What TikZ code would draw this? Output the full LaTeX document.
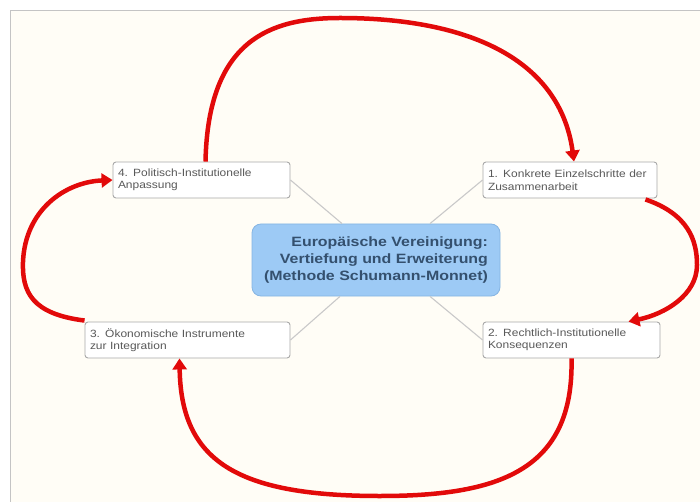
\documentclass[tikz,border=0pt]{standalone}
\usepackage{fontspec}
\setmainfont{Liberation Sans}
\newfontfamily\leaffont[FakeStretch=1.14]{Liberation Sans}
\newfontfamily\rootfont[FakeStretch=1.18]{Liberation Sans}
\usetikzlibrary{arrows.meta}
\definecolor{bgcream}{HTML}{FFFDF6}
\definecolor{framegray}{HTML}{C4C4C4}
\definecolor{rootfill}{HTML}{9DCAF5}
\definecolor{rootdraw}{HTML}{86B5E3}
\definecolor{roottext}{HTML}{34506E}
\definecolor{leafdraw}{HTML}{A8A8A8}
\definecolor{leaftext}{HTML}{595959}
\definecolor{linkgray}{HTML}{C9C9C9}
\definecolor{arrowred}{HTML}{E20A0A}
\begin{document}
\begin{tikzpicture}[x=1pt,y=-1pt,
  leaf/.style={draw=leafdraw, line width=0.9pt, fill=white, rounded corners=3pt,
    minimum height=36pt, inner xsep=5pt, inner ysep=3pt, align=left,
    text=leaftext, font=\leaffont\fontsize{10.5}{12.5}\selectfont, anchor=center},
  root/.style={draw=rootdraw, line width=0.8pt, fill=rootfill, rounded corners=9pt,
    minimum width=248pt, minimum height=72pt, align=right, inner xsep=8pt,
    text=roottext, font=\rootfont\bfseries\fontsize{13.5}{17}\selectfont},
  link/.style={draw=linkgray, line width=1.1pt},
  cycle/.style={draw=arrowred, line width=4.5pt,
    -{Triangle[length=11pt,width=14pt]}}
]
\useasboundingbox (0,0) rectangle (700,502);
\fill[white] (0,0) rectangle (700,502);
\draw[framegray, fill=bgcream, line width=1pt] (10.5,10.5) rectangle (710,512);

\node[root] (c) at (376,260) {Europäische Vereinigung:\\Vertiefung und Erweiterung\\(Methode Schumann-Monnet)};

\node[leaf, minimum width=177pt, text width=167pt] (n4) at (201.5,180) {4. Politisch-Institutionelle\\Anpassung};
\node[leaf, minimum width=174pt, text width=164pt] (n1) at (570,180) {1. Konkrete Einzelschritte der\\Zusammenarbeit};
\node[leaf, minimum width=205pt, text width=195pt] (n3) at (187.5,340) {3. Ökonomische Instrumente\\zur Integration};
\node[leaf, minimum width=177pt, text width=167pt] (n2) at (571.5,340) {2. Rechtlich-Institutionelle\\Konsequenzen};

\draw[link] ([xshift=-34pt]c.north) -- (n4.east);
\draw[link] ([xshift=54pt]c.north) -- (n1.west);
\draw[link] ([xshift=-36pt]c.south) -- (n3.east);
\draw[link] ([xshift=54pt]c.south) -- (n2.west);

\draw[cycle] ([xshift=4pt]n4.north) .. controls (208,40) and (270,18) .. (340,18)
  .. controls (470,18) and (560,60) .. ([xshift=4pt]n1.north);
\draw[cycle] ([xshift=-12pt,yshift=-1pt]n1.south east) .. controls (688,214) and (697,240) .. (697,265)
  .. controls (697,295) and (665,314) .. ([xshift=-32pt]n2.north east);
\draw[cycle] (n2.south) .. controls (574,470) and (500,496) .. (380,496)
  .. controls (235,496) and (181,460) .. ([xshift=-8pt]n3.south);
\draw[cycle] ([yshift=1pt]n3.north west) .. controls (32,314) and (22,292) .. (23,262)
  .. controls (25,210) and (65,182) .. (n4.west);
\end{tikzpicture}
\end{document}
